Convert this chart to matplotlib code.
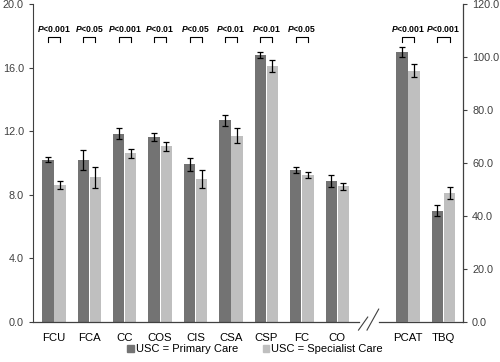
import numpy as np
import matplotlib
matplotlib.use("Agg")
import matplotlib.pyplot as plt
from matplotlib.patches import Patch
import matplotlib.transforms as mtransforms

plt.rcParams['font.family'] = ['Liberation Sans', 'DejaVu Sans']
plt.rcParams['mathtext.fontset'] = 'custom'
plt.rcParams['mathtext.it'] = 'Liberation Sans:italic:bold'

# left-axis scales (0-20)
left_labels = ["FCU", "FCA", "CC", "COS", "CIS", "CSA", "CSP", "FC", "CO"]
left_primary = [10.2, 10.2, 11.85, 11.65, 9.9, 12.68, 16.78, 9.56, 8.87]
left_primary_err = [0.16, 0.62, 0.37, 0.26, 0.39, 0.33, 0.17, 0.2, 0.36]
left_special = [8.63, 9.1, 10.6, 11.04, 9.01, 11.71, 16.1, 9.22, 8.53]
left_special_err = [0.25, 0.65, 0.27, 0.3, 0.57, 0.48, 0.37, 0.19, 0.21]
left_pvals = ["<0.001", "<0.05", "<0.001", "<0.01", "<0.05", "<0.01", "<0.01", "<0.05", None]

# right-axis scales (0-120)
right_labels = ["PCAT", "TBQ"]
right_primary = [101.9, 42.0]
right_primary_err = [2.0, 2.2]
right_special = [94.8, 48.5]
right_special_err = [2.45, 2.3]
right_pvals = ["<0.001", "<0.001"]

DARK = "#737373"
LIGHT = "#bfbfbf"
TXT = "#404040"

fig = plt.figure(figsize=(5, 3.62), dpi=100)
ax = fig.add_axes([0.066, 0.111, 0.86, 0.878])
ax2 = ax.twinx()

w = 0.32
off = 0.17
xl = np.arange(len(left_labels))
xr = np.arange(len(right_labels)) + len(left_labels) + 1

ekw = dict(ecolor="black", capsize=2, elinewidth=0.9, capthick=0.9)
ax.bar(xl - off, left_primary, w, color=DARK, yerr=left_primary_err, error_kw=ekw)
ax.bar(xl + off, left_special, w, color=LIGHT, yerr=left_special_err, error_kw=ekw)
ax2.bar(xr - off, right_primary, w, color=DARK, yerr=right_primary_err, error_kw=ekw)
ax2.bar(xr + off, right_special, w, color=LIGHT, yerr=right_special_err, error_kw=ekw)

ax.set_xlim(-0.59, 11.55)
ax.set_ylim(0, 20)
ax2.set_ylim(0, 120)
ax.set_yticks(np.arange(0, 20.1, 4))
ax.set_yticklabels([f"{v:.1f}" for v in np.arange(0, 20.1, 4)])
ax2.set_yticks(np.arange(0, 120.1, 20))
ax2.set_yticklabels([f"{v:.1f}" for v in np.arange(0, 120.1, 20)])
ax.set_xticks(list(xl) + list(xr))
ax.set_xticklabels(left_labels + right_labels)
ax.tick_params(axis="x", length=0, labelsize=8.2, colors="black", pad=8)
for a in (ax, ax2):
    a.tick_params(axis="y", length=3, width=0.8, labelsize=7.8, labelcolor=TXT, color="#404040")
    a.spines["top"].set_visible(False)
    a.spines["bottom"].set_visible(False)
ax.spines["left"].set_color("#404040")
ax2.spines["right"].set_color("#404040")
ax2.spines["left"].set_visible(False)

# broken x axis
trans = mtransforms.blended_transform_factory(ax.transData, ax.transAxes)
ax.plot([-0.59, 8.62], [0, 0], color="#404040", lw=0.9, transform=trans, clip_on=False)
ax.plot([9.17, 11.55], [0, 0], color="#404040", lw=0.9, transform=trans, clip_on=False)
ax.plot([8.6, 8.86], [-0.026, 0.015], color="#404040", lw=0.8, transform=trans, clip_on=False)
ax.plot([8.84, 9.17], [-0.026, 0.04], color="#404040", lw=0.8, transform=trans, clip_on=False)

# significance brackets
def bracket(x, label):
    if label is None:
        return
    y0, y1 = 0.88, 0.896
    ax.plot([x - off, x - off, x + off, x + off], [y0, y1, y1, y0], color="black",
            lw=0.8, transform=trans)
    ax.text(x, 0.922, r"$P$" + label, transform=trans, ha="center", va="center",
            fontsize=6.2, fontweight="bold")

for x, p in zip(xl, left_pvals):
    bracket(x, p)
for x, p in zip(xr, right_pvals):
    bracket(x, p)

handles = [Patch(color=DARK, label="USC = Primary Care"),
           Patch(color=LIGHT, label="USC = Specialist Care")]
fig.legend(handles=handles, loc="center", bbox_to_anchor=(0.51, 0.036), ncol=2,
           frameon=False, fontsize=8, handlelength=0.6, handleheight=0.6,
           handletextpad=0.2, columnspacing=2.2)

fig.savefig("out.png", dpi=100)
